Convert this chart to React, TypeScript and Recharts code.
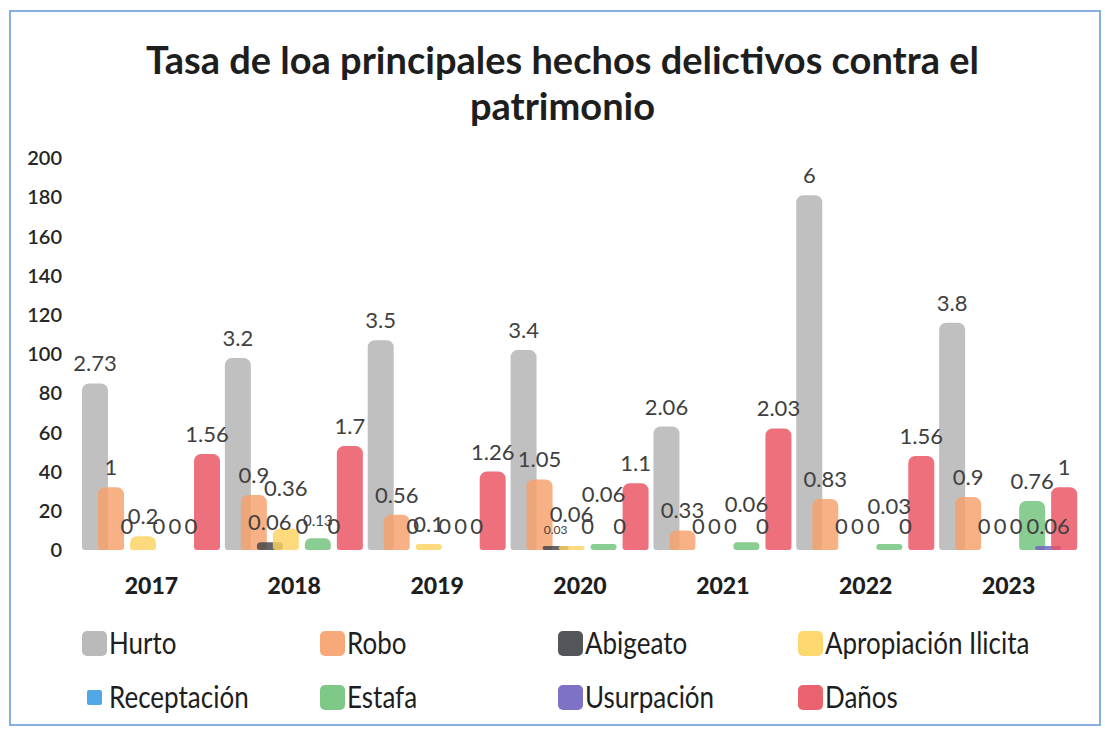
import React from "react";
import { BarChart, Bar, XAxis, YAxis, LabelList } from "recharts";

const years = ["2017", "2018", "2019", "2020", "2021", "2022", "2023"];
const yTicks = [0, 20, 40, 60, 80, 100, 120, 140, 160, 180, 200];

// bar heights
const hurto = [85, 98, 107, 102, 63, 181, 116];
const robo = [32, 28, 18, 36, 10, 26, 27];
const abigeato = [0, 4, 0, 2, 0, 0, 0];
const apropiacion = [7, 11, 3, 2, 0, 0, 0];
const receptacion = [0, 0, 0, 0, 0, 0, 0];
const estafa = [0, 6, 0, 3, 4, 3, 25];
const usurpacion = [0, 0, 0, 0, 0, 0, 2];
const danos = [49, 53, 40, 34, 62, 48, 32];

// rates printed above the bars
const hurtoTasa = [2.73, 3.2, 3.5, 3.4, 2.06, 6, 3.8];
const roboTasa = [1, 0.9, 0.56, 1.05, 0.33, 0.83, 0.9];
const abigeatoTasa = [0, 0.06, 0, 0.03, 0, 0, 0];
const apropiacionTasa = [0.2, 0.36, 0.1, 0.06, 0, 0, 0];
const receptacionTasa = [0, 0, 0, 0, 0, 0, 0];
const estafaTasa = [0, 0.13, 0, 0.06, 0.06, 0.03, 0.76];
const usurpacionTasa = [0, 0, 0, 0, 0, 0, 0.06];
const danosTasa = [1.56, 1.7, 1.26, 1.1, 2.03, 1.56, 1];

const SERIES = [
  { key: "hurto", name: "Hurto", color: "#b2b2b2", vals: hurto, tasa: hurtoTasa },
  { key: "robo", name: "Robo", color: "#f7a06a", vals: robo, tasa: roboTasa },
  { key: "abigeato", name: "Abigeato", color: "#3f4448", vals: abigeato, tasa: abigeatoTasa },
  { key: "apropiacion", name: "Apropiación Ilicita", color: "#fdd35f", vals: apropiacion, tasa: apropiacionTasa },
  { key: "receptacion", name: "Receptación", color: "#3d9ee4", vals: receptacion, tasa: receptacionTasa },
  { key: "estafa", name: "Estafa", color: "#6fc27a", vals: estafa, tasa: estafaTasa },
  { key: "usurpacion", name: "Usurpación", color: "#6f63c0", vals: usurpacion, tasa: usurpacionTasa },
  { key: "danos", name: "Daños", color: "#e9515f", vals: danos, tasa: danosTasa },
];

const data = years.map((y, i) => {
  const row: any = { year: y };
  SERIES.forEach((s) => {
    row[s.key] = s.vals[i];
    row[s.key + "T"] = s.tasa[i];
  });
  return row;
});

const FONT = "Lato, 'Open Sans', sans-serif";
const INK = "#404040";

// the crowded little labels were nudged by hand in the original
const LIFT: Record<string, number> = {
  "apropiacion-1": 20,
  "apropiacion-3": 12,
  "estafa-3": 30,
  "estafa-4": 18,
  "estafa-5": 18,
};
const SMALL: Record<string, number> = { "abigeato-3": 12, "estafa-1": 15 };

const rateLabel = (key: string) => (props: any) => {
  const vb = props.viewBox || {};
  const x = props.x ?? vb.x;
  const y = props.y ?? vb.y;
  const w = props.width ?? vb.width;
  const h = props.height ?? vb.height ?? 0;
  const id = `${key}-${props.index}`;
  const top = Math.min(y, y + h);
  const off = (props.value === 0 ? 15 : 12) + (LIFT[id] ?? 0);
  return (
    <text
      x={x + w / 2}
      y={top - off}
      textAnchor="middle"
      fontSize={SMALL[id] ?? 22}
      fill={INK}
      fontFamily={FONT}
    >
      {String(props.value)}
    </text>
  );
};

const LEG_X = [82, 320, 558, 798];

function Legend() {
  return (
    <div style={{ position: "absolute", left: 0, top: 626, width: 1105, fontFamily: FONT, fontSize: 26, color: "#1e1e1e" }}>
      {SERIES.map((s, i) => {
        const small = s.key === "receptacion";
        return (
          <div
            key={s.key}
            style={{
              position: "absolute",
              left: LEG_X[i % 4],
              top: i < 4 ? 2 : 56,
              height: 30,
              display: "flex",
              alignItems: "center",
              whiteSpace: "nowrap",
            }}
          >
            <span
              style={{
                display: "inline-block",
                width: small ? 15 : 25,
                height: small ? 15 : 25,
                marginLeft: small ? 5 : 0,
                marginRight: small ? 7 : 2,
                borderRadius: small ? 2 : 5,
                background: s.color,
                opacity: 0.9,
              }}
            />
            <span style={{ display: "inline-block", transform: "scaleY(1.15)" }}>{s.name}</span>
          </div>
        );
      })}
    </div>
  );
}

export default function App() {
  return (
    <div style={{ position: "absolute", left: 0, top: 0, width: 1105, height: 733, background: "#fff" }}>
      <div
        style={{
          position: "absolute",
          left: 9,
          top: 10,
          width: 1092,
          height: 716,
          border: "2px solid #86aede",
          boxSizing: "border-box",
        }}
      />
      <div
        style={{
          position: "absolute",
          left: 0,
          top: 36,
          width: 1125,
          textAlign: "center",
          fontFamily: FONT,
          fontWeight: 700,
          fontSize: 38,
          lineHeight: "46px",
          color: "#1e1e1e",
        }}
      >
        Tasa de loa principales hechos delictivos contra el
        <br />
        patrimonio
      </div>
      <div style={{ position: "absolute", left: 0, top: 0 }}>
        <BarChart
          width={1105}
          height={620}
          data={data}
          margin={{ top: 158, right: 25, bottom: 20, left: 10 }}
          barSize={26}
          barGap={-10}
        >
          <XAxis
            dataKey="year"
            axisLine={false}
            tickLine={false}
            tickMargin={22}
            height={50}
            tick={{ fontSize: 23, fontWeight: 900, fill: "#1e1e1e", fontFamily: FONT }}
          />
          <XAxis xAxisId="lbl" dataKey="year" hide />
          <YAxis
            domain={[0, 200]}
            ticks={yTicks}
            interval={0}
            axisLine={false}
            tickLine={false}
            tickMargin={12}
            width={70}
            tick={{ fontSize: 20, fontWeight: 600, fill: "#262626", fontFamily: FONT }}
          />
          {SERIES.map((s) => (
            <Bar
              key={s.key + "L"}
              xAxisId="lbl"
              dataKey={s.key}
              fill="none"
              minPointSize={1}
              isAnimationActive={false}
            >
              <LabelList dataKey={s.key + "T"} content={rateLabel(s.key)} />
            </Bar>
          ))}
          {SERIES.map((s) => (
            <Bar
              key={s.key}
              dataKey={s.key}
              fill={s.color}
              fillOpacity={0.82}
              radius={[7, 7, 3, 3]}
              isAnimationActive={false}
            />
          ))}
        </BarChart>
      </div>
      <Legend />
    </div>
  );
}
